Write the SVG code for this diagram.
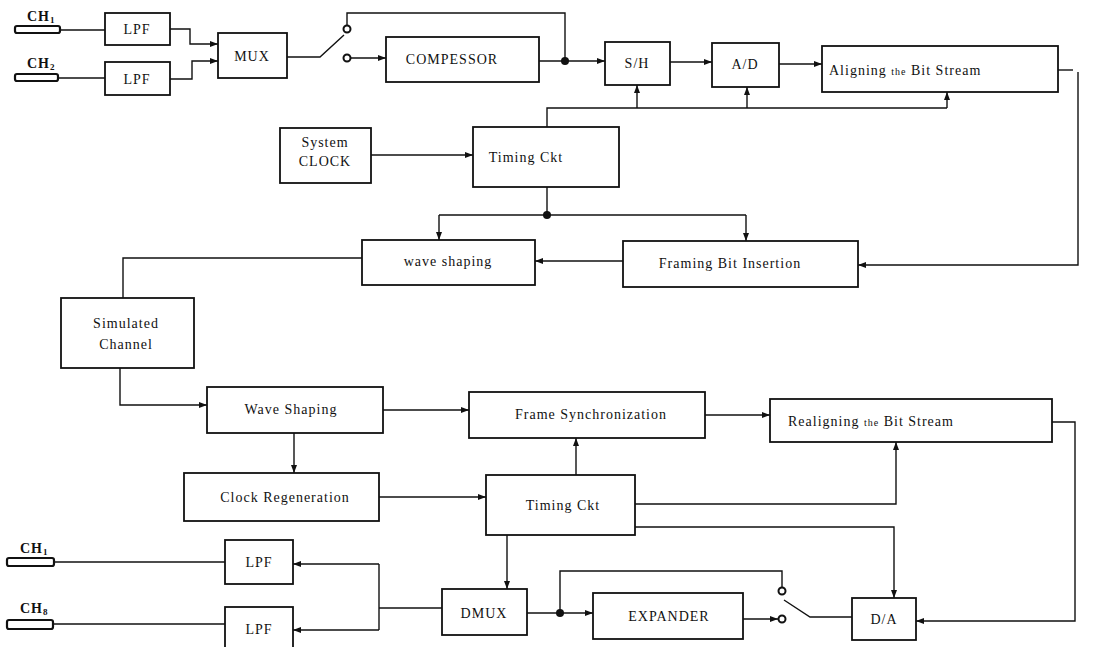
<svg xmlns="http://www.w3.org/2000/svg" width="1106" height="647" viewBox="0 0 1106 647">
<defs>
<marker id="ah" markerWidth="8" markerHeight="6" refX="8" refY="3" orient="auto" markerUnits="userSpaceOnUse"><path d="M0,0 L8,3 L0,6 z" fill="#111"/></marker>
<style>
.b{fill:#fff;stroke:#111;stroke-width:1.8}
.c{fill:none;stroke:#111;stroke-width:1.4}
.a{marker-end:url(#ah)}
.t{font-family:"Liberation Serif",serif;font-size:14px;fill:#111;text-anchor:middle;letter-spacing:1px}
.s{text-anchor:start}
.sub{font-size:9px}
.dot{fill:#111}
.ct{fill:#fff;stroke:#111;stroke-width:2}
.plug{fill:#fff;stroke:#111;stroke-width:2.2}
</style>
</defs>
<rect width="1106" height="647" fill="#fff"/>

<g id="connectors">
<path class="c" d="M60,30 H105"/>
<path class="c" d="M58,78 H105"/>
<path class="c a" d="M170,29 H190 V44 H218"/>
<path class="c a" d="M170,79 H192 V61 H218"/>
<path class="c" d="M287,57 H320 L344,35"/>
<path class="c" d="M347,25.5 V13 H565 V61"/>
<path class="c a" d="M350.5,58 H386"/>
<path class="c a" d="M539,61 H605"/>
<circle class="dot" cx="565" cy="61" r="4"/>
<path class="c a" d="M670,62 H712"/>
<path class="c a" d="M779,64 H822"/>
<path class="c" d="M1058,70 H1073"/>
<path class="c a" d="M1078,72 V265 H858"/>
<path class="c" d="M547,127 V108 H947"/>
<path class="c a" d="M637,108 V85"/>
<path class="c a" d="M747,108 V87"/>
<path class="c a" d="M947,108 V92"/>
<path class="c a" d="M371,155 H473"/>
<path class="c" d="M547,187 V215"/>
<circle class="dot" cx="547" cy="215" r="4"/>
<path class="c" d="M439,215 H746"/>
<path class="c a" d="M439,215 V240"/>
<path class="c a" d="M746,215 V241"/>
<path class="c a" d="M623,261 H535"/>
<path class="c" d="M362,258 H123 V298"/>
<path class="c a" d="M120,368 V405 H207"/>
<path class="c a" d="M383,410 H469"/>
<path class="c a" d="M705,415 H770"/>
<path class="c a" d="M1052,422 H1075 V621 H916"/>
<path class="c a" d="M294,433 V473"/>
<path class="c a" d="M379,497 H486"/>
<path class="c a" d="M576,475 V438"/>
<path class="c a" d="M635,504 H896 V442"/>
<path class="c a" d="M635,527 H894 V598"/>
<path class="c a" d="M507,535 V589"/>
<path class="c" d="M442,608 H379"/>
<path class="c" d="M379,564 V630"/>
<path class="c a" d="M379,564 H293"/>
<path class="c a" d="M379,630 H293"/>
<path class="c" d="M225,562 H54"/>
<path class="c" d="M225,624 H53"/>
<path class="c a" d="M527,613 H593"/>
<circle class="dot" cx="560" cy="613" r="4"/>
<path class="c" d="M560,613 V571 H782 V587.5"/>
<path class="c a" d="M743,619 H778"/>
<path class="c" d="M784,600 L810,617 H852"/>
</g>

<g id="ch1-in"><rect class="plug" x="15" y="26" width="45" height="7" rx="2"/><text class="t s" x="27" y="21" font-weight="bold" font-size="12" letter-spacing="0">CH<tspan class="sub" dy="2">1</tspan></text></g>
<g id="ch2-in"><rect class="plug" x="15" y="74" width="43" height="7" rx="2"/><text class="t s" x="27" y="68" font-weight="bold" font-size="12" letter-spacing="0">CH<tspan class="sub" dy="2">2</tspan></text></g>
<g id="lpf1"><rect class="b" x="105" y="13" width="65" height="32"/><text class="t" x="137" y="34">LPF</text></g>
<g id="lpf2"><rect class="b" x="105" y="62" width="65" height="33"/><text class="t" x="137" y="84">LPF</text></g>
<g id="mux"><rect class="b" x="218" y="33" width="69" height="45"/><text class="t" x="252" y="61">MUX</text></g>
<g id="switch1"><circle class="ct" cx="347" cy="29" r="3.5"/><circle class="ct" cx="347" cy="58" r="3.5"/></g>
<g id="compressor"><rect class="b" x="386" y="37" width="153" height="45"/><text class="t" x="452" y="64" letter-spacing="0.5">COMPESSOR</text></g>
<g id="sh"><rect class="b" x="605" y="42" width="65" height="43"/><text class="t" x="637" y="68">S/H</text></g>
<g id="ad"><rect class="b" x="712" y="43" width="67" height="44"/><text class="t" x="745" y="69">A/D</text></g>
<g id="aligning"><rect class="b" x="822" y="46" width="236" height="46"/><text class="t s" x="829" y="75" letter-spacing="1.3">Aligning <tspan font-size="10">the</tspan> Bit  Stream</text></g>
<g id="sysclock"><rect class="b" x="280" y="128" width="91" height="55"/><text class="t" x="325" y="147" font-size="13">System</text><text class="t" x="325" y="166">CLOCK</text></g>
<g id="timing1"><rect class="b" x="473" y="127" width="146" height="60"/><text class="t" x="526" y="162">Timing Ckt</text></g>
<g id="waveshaping1"><rect class="b" x="362" y="240" width="173" height="45"/><text class="t" x="448" y="266" font-size="13">wave shaping</text></g>
<g id="framing"><rect class="b" x="623" y="241" width="235" height="46"/><text class="t" x="730" y="268">Framing Bit   Insertion</text></g>
<g id="channel"><rect class="b" x="61" y="298" width="133" height="70"/><text class="t" x="126" y="328" font-size="13">Simulated</text><text class="t" x="126" y="349" font-size="13">Channel</text></g>
<g id="waveshaping2"><rect class="b" x="207" y="387" width="176" height="46"/><text class="t" x="291" y="414">Wave Shaping</text></g>
<g id="framesync"><rect class="b" x="469" y="392" width="236" height="46"/><text class="t" x="591" y="419">Frame Synchronization</text></g>
<g id="realigning"><rect class="b" x="770" y="399" width="282" height="43"/><text class="t s" x="788" y="426">Realigning <tspan font-size="10">the</tspan>  Bit Stream</text></g>
<g id="clockregen"><rect class="b" x="184" y="473" width="195" height="48"/><text class="t" x="285" y="502">Clock Regeneration</text></g>
<g id="timing2"><rect class="b" x="486" y="475" width="149" height="60"/><text class="t" x="563" y="510">Timing Ckt</text></g>
<g id="lpf3"><rect class="b" x="225" y="540" width="68" height="44"/><text class="t" x="259" y="567">LPF</text></g>
<g id="lpf4"><rect class="b" x="225" y="607" width="68" height="42"/><text class="t" x="259" y="634">LPF</text></g>
<g id="ch1-out"><rect class="plug" x="7" y="558" width="47" height="8" rx="2"/><text class="t s" x="20" y="553" font-weight="bold" font-size="12" letter-spacing="0">CH<tspan class="sub" dy="2">1</tspan></text></g>
<g id="ch2-out"><rect class="plug" x="7" y="620" width="46" height="9" rx="2" stroke-width="3"/><text class="t s" x="20" y="613" font-weight="bold" font-size="12" letter-spacing="0">CH<tspan class="sub" dy="2">8</tspan></text></g>
<g id="dmux"><rect class="b" x="442" y="589" width="85" height="46"/><text class="t" x="484" y="618" font-size="13">DMUX</text></g>
<g id="expander"><rect class="b" x="593" y="593" width="150" height="46"/><text class="t" x="669" y="621" font-size="13">EXPANDER</text></g>
<g id="switch2"><circle class="ct" cx="782" cy="591" r="3.5"/><circle class="ct" cx="782" cy="619" r="3.5"/></g>
<g id="da"><rect class="b" x="852" y="598" width="64" height="42"/><text class="t" x="884" y="624" font-size="13">D/A</text></g>
</svg>
